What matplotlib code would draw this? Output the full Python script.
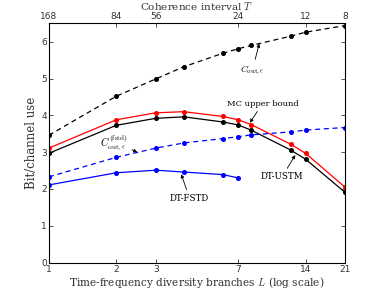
import numpy as np
import matplotlib
matplotlib.use('Agg')
from matplotlib import pyplot as plt

# 数据
L = [1, 2, 3, 4, 6, 7, 8, 12, 14, 21]
T_total = 168
cout_eps = [3.46, 4.52, 4.99, 5.32, 5.69, 5.81, 5.90, 6.15, 6.26, 6.44]
mc_upper = [3.11, 3.88, 4.07, 4.10, 3.97, 3.88, 3.75, 3.22, 2.97, 2.05]
dt_ustm = [2.97, 3.73, 3.92, 3.96, 3.82, 3.74, 3.60, 3.06, 2.81, 1.91]
cout_fstd = [2.33, 2.86, 3.11, 3.25, 3.37, 3.42, 3.47, 3.55, 3.60, 3.67]
L_fstd = [1, 2, 3, 4, 6, 7]
dt_fstd = [2.11, 2.44, 2.51, 2.46, 2.39, 2.30]

bottom_ticks = [1, 2, 3, 7, 14, 21]
top_ticks = [168, 84, 56, 24, 12, 8]

plt.rcParams['font.family'] = 'DejaVu Serif'
plt.rcParams['mathtext.fontset'] = 'cm'

fig = plt.figure(figsize=(3.82, 2.96), dpi=100)
ax = fig.add_axes([0.128, 0.113, 0.775, 0.808])

ms = 2.6
ax.plot(L, cout_eps, 'k--', marker='o', ms=ms, lw=0.9, dashes=(4, 3))
ax.plot(L, mc_upper, 'r-', marker='o', ms=ms, lw=0.9)
ax.plot(L, dt_ustm, 'k-', marker='o', ms=ms, lw=0.9)
ax.plot(L, cout_fstd, 'b--', marker='o', ms=ms, lw=0.9, dashes=(4, 3))
ax.plot(L_fstd, dt_fstd, 'b-', marker='o', ms=ms, lw=0.9)

ax.set_xscale('log')
ax.set_xlim(1, 21)
ax.set_ylim(0, 6.5)
ax.set_xticks(bottom_ticks)
ax.set_xticklabels([str(v) for v in bottom_ticks])
ax.xaxis.set_minor_locator(matplotlib.ticker.NullLocator())
ax.set_yticks(range(7))
ax.tick_params(direction='in', length=3, width=0.6, labelsize=6.5, right=True, colors='#333333', pad=1.5)
for lab in ax.get_xticklabels() + ax.get_yticklabels():
    lab.set_family('DejaVu Sans')
for s in ax.spines.values():
    s.set_linewidth(0.6)
    s.set_color('#555555')

# 上方坐标轴: 相干间隔 T = 168 / L
ax2 = ax.twiny()
ax2.set_xscale('log')
ax2.set_xlim(ax.get_xlim())
ax2.set_xticks([T_total / t for t in top_ticks])
ax2.set_xticklabels([str(t) for t in top_ticks])
ax2.xaxis.set_minor_locator(matplotlib.ticker.NullLocator())
ax2.tick_params(direction='in', length=3, width=0.6, labelsize=6.5, colors='#333333', pad=1.5)
for lab in ax2.get_xticklabels():
    lab.set_family('DejaVu Sans')

ax.set_xlabel('Time-frequency diversity branches $L$ (log scale)', fontsize=7.6, labelpad=1, color='#333333')
ax.set_ylabel('Bit/channel use', fontsize=8.5, labelpad=2, color='#333333')
ax2.set_xlabel('Coherence interval $T$', fontsize=7.5, labelpad=2, color='#333333')

ap = dict(arrowstyle='-|>', lw=0.6, color='k', mutation_scale=5, shrinkA=1, shrinkB=0)
ax.annotate(r'$C_{\mathrm{out},\epsilon}$', xy=(8.7, 5.95), xytext=(8.1, 5.22),
            fontsize=7, ha='center', va='center', arrowprops=ap)
ax.annotate(r'$C^{(\mathrm{fstd})}_{\mathrm{out},\epsilon}$', xy=(2.48, 3.0), xytext=(1.95, 3.28),
            fontsize=7.5, ha='center', va='center', arrowprops=ap)
ax.annotate('MC upper bound', xy=(7.9, 3.8), xytext=(9.0, 4.32),
            fontsize=6, ha='center', va='center', arrowprops=ap)
ax.annotate('DT-USTM', xy=(12.6, 2.92), xytext=(11.0, 2.33),
            fontsize=6.2, ha='center', va='center', arrowprops=ap)
ax.annotate('DT-FSTD', xy=(3.9, 2.4), xytext=(4.25, 1.75),
            fontsize=6.2, ha='center', va='center', arrowprops=ap)

fig.savefig('out.png', dpi=100)
